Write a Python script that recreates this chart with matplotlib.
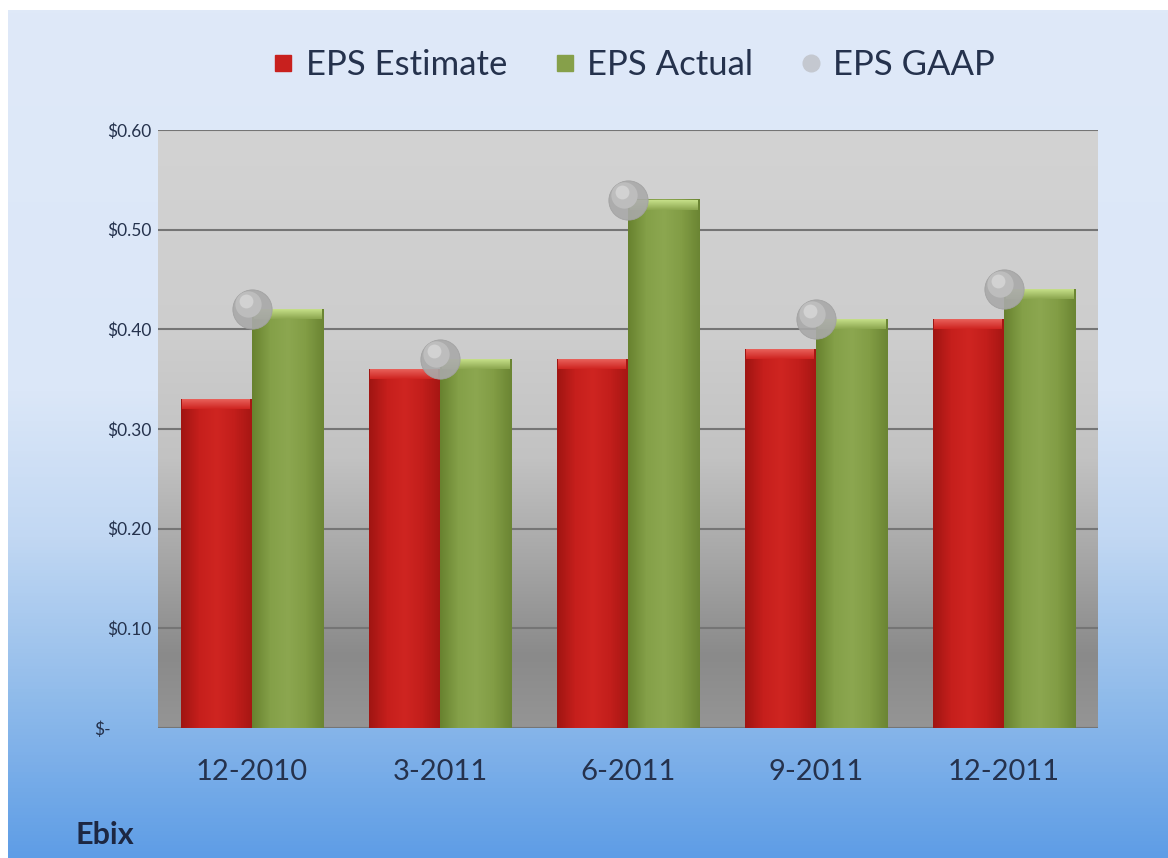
import numpy as np
import matplotlib
matplotlib.use("Agg")
import matplotlib.pyplot as plt
from matplotlib.colors import LinearSegmentedColormap
from matplotlib.lines import Line2D
from matplotlib.transforms import ScaledTranslation

plt.rcParams['font.family'] = ['Lato', 'DejaVu Sans']

quarters = ["12-2010", "3-2011", "6-2011", "9-2011", "12-2011"]
eps_estimate = [0.33, 0.36, 0.37, 0.38, 0.41]
eps_actual = [0.42, 0.37, 0.53, 0.41, 0.44]
eps_gaap = [0.42, 0.37, 0.53, 0.41, 0.44]
y_ticks = [0.0, 0.1, 0.2, 0.3, 0.4, 0.5, 0.6]
y_labels = ["$-", "$0.10", "$0.20", "$0.30", "$0.40", "$0.50", "$0.60"]

text_col = '#25324d'

fig = plt.figure(figsize=(11.68, 8.58), dpi=100)

# outer blue gradient panel
bg = fig.add_axes([8 / 1168, 0, 1, 1 - 10 / 858], zorder=-10)
bg_cmap = LinearSegmentedColormap.from_list('bg', [
    (0.0, '#dfe9f8'),
    (0.45, '#dbe7f8'),
    (0.62, '#c2d8f3'),
    (0.80, '#93bdeb'),
    (1.0, '#5e9de6'),
])
bg.imshow(np.linspace(0, 1, 256).reshape(-1, 1), cmap=bg_cmap, aspect='auto',
          extent=[0, 1, 0, 1])
bg.set_axis_off()

ax = fig.add_axes([158 / 1168, 1 - 728 / 858, 940 / 1168, 598 / 858])

# plot area gray gradient (top light, bottom dark)
pa_cmap = LinearSegmentedColormap.from_list('pa', [
    (0.0, '#d3d3d3'),
    (0.35, '#cdcdcd'),
    (0.55, '#c2c2c2'),
    (0.72, '#a6a6a6'),
    (0.88, '#8a8a8a'),
    (1.0, '#959595'),
])
ax.imshow(np.linspace(0, 1, 256).reshape(-1, 1), cmap=pa_cmap, aspect='auto',
          extent=[-0.5, 4.5, 0, 0.6], zorder=0)

x = np.arange(len(quarters))
w = 0.38
bars_est = ax.bar(x - w / 2, eps_estimate, w, color='#c8201e', zorder=2)
bars_act = ax.bar(x + w / 2, eps_actual, w, color='#86a04a', zorder=2)

red_cmap = LinearSegmentedColormap.from_list('r', ['#a01512', '#c61f1c', '#cf2521', '#c21e1b', '#a51613'])
green_cmap = LinearSegmentedColormap.from_list('g', ['#68822f', '#84a048', '#8ca750', '#829d45', '#6b8533'])
grad = np.linspace(0, 1, 64).reshape(1, -1)
vgrad = np.linspace(1, 0, 16).reshape(-1, 1)
for bars, cm, top in [(bars_est, red_cmap, '#e8605a'), (bars_act, green_cmap, '#c5de88')]:
    for p in bars:
        x0, h, bw = p.get_x(), p.get_height(), p.get_width()
        ax.imshow(grad, cmap=cm, aspect='auto', extent=[x0, x0 + bw, 0, h], zorder=3)
        ax.imshow(vgrad, cmap=LinearSegmentedColormap.from_list('t', [cm(0.5), top]),
                  aspect='auto', extent=[x0 + 0.01, x0 + bw - 0.01, h - 0.010, h], zorder=4)

# GAAP spheres
ax.scatter(x, eps_gaap, s=800, color='#a9a9a9', edgecolors='#a0a0a0', linewidths=0.6,
           alpha=0.9, zorder=5)
ax.scatter(x - 0.022, np.array(eps_gaap) + 0.005, s=360, color='#bdbdbd', linewidths=0, zorder=6)
ax.scatter(x - 0.03, np.array(eps_gaap) + 0.008, s=100, color='#d2d2d2', linewidths=0, zorder=7)

ax.set_xlim(-0.5, 4.5)
ax.set_ylim(0, 0.6)
ax.set_yticks(y_ticks)
ax.set_yticklabels(y_labels)
ax.set_xticks(x)
ax.set_xticklabels(quarters)
ax.yaxis.grid(True, color='#757575', linewidth=1.5, zorder=1)
ax.set_axisbelow(False)
for s in ax.spines.values():
    s.set_visible(False)
ax.tick_params(axis='both', length=0)
ax.tick_params(axis='y', labelsize=12.5, labelcolor=text_col, pad=5)
ax.tick_params(axis='x', labelsize=21, labelcolor=text_col, pad=22)
# accounting style: "$-" sits further left
ax.get_yticklabels()[0].set_transform(ax.get_yticklabels()[0].get_transform()
                                      + ScaledTranslation(-0.40, 0, fig.dpi_scale_trans))

handles = [
    Line2D([], [], marker='s', linestyle='none', markersize=11, color='#c8201e'),
    Line2D([], [], marker='s', linestyle='none', markersize=11, color='#86a04a'),
    Line2D([], [], marker='o', linestyle='none', markersize=12, color='#c4c8d0'),
]
fig.legend(handles, ["EPS Estimate", "EPS Actual", "EPS GAAP"], loc='center',
           bbox_to_anchor=(0.542, 1 - 65 / 858), ncol=3, frameon=False,
           fontsize=25, handlelength=0.7, handletextpad=0.3, columnspacing=1.3,
           labelcolor=text_col)

fig.text(75 / 1168, 1 - 835 / 858, "Ebix", fontsize=22, fontweight='bold',
         color='#1d2742', va='center', ha='left')

fig.savefig("out.png", dpi=100)
